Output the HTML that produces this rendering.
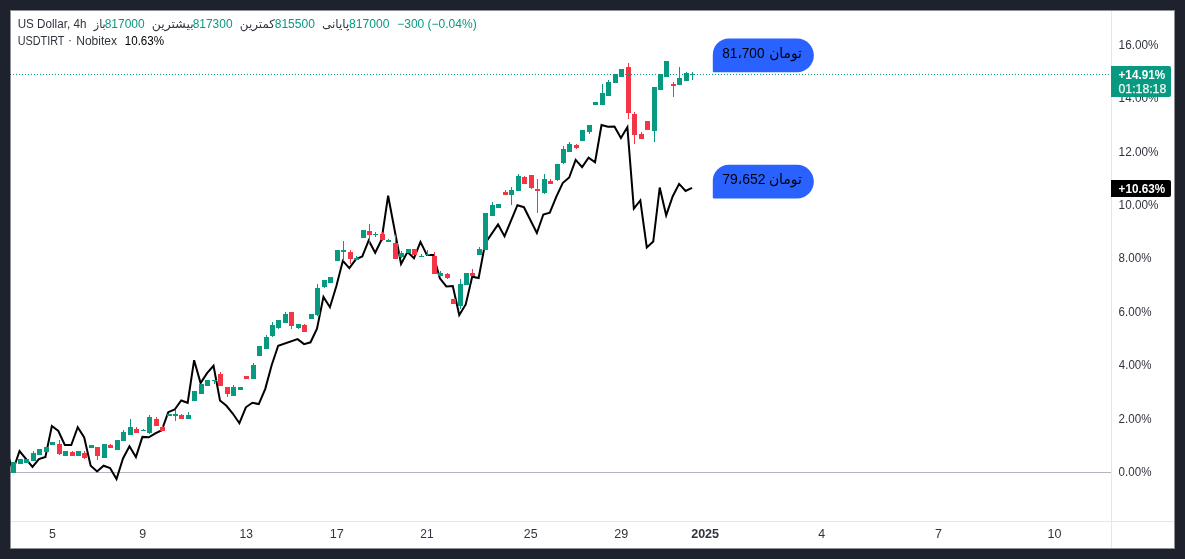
<!DOCTYPE html>
<html><head><meta charset="utf-8"><title>US Dollar chart</title>
<style>
*{margin:0;padding:0;box-sizing:border-box}
html,body{width:1185px;height:559px;overflow:hidden;background:#1e222d}
body{position:relative}
.panel{position:absolute;left:10px;top:10px;width:1165px;height:539px;background:#fff}
svg{position:absolute;left:0;top:0}
.txt{will-change:transform}
text{font-family:"Liberation Sans","DejaVu Sans",sans-serif;white-space:pre}
</style></head><body>
<div class="panel"></div>
<svg class="chart" width="1185" height="559" viewBox="0 0 1185 559">
<defs><clipPath id="pane"><rect x="10" y="10" width="1101" height="511"/></clipPath></defs>
<rect x="10" y="472" width="1101" height="1" fill="#b2b5be"/>
<g clip-path="url(#pane)">
<polyline points="6.60,452 13.07,470 19.53,451 32.47,467 38.93,459 45.40,457 51.87,426 58.33,431 64.80,445 71.26,445 77.73,427.2 84.20,437.5 90.66,465.7 97.13,471.5 103.60,465.7 110.06,468 116.53,479 123.00,458.5 129.46,446.3 135.93,457 142.40,436.9 148.86,437.3 155.33,433.3 161.80,430.2 168.26,412.2 174.73,409.5 181.20,400.5 187.66,402.8 194.13,360.2 200.59,383 207.06,373.1 213.53,365.8 219.99,400.5 226.46,405.8 232.93,413.8 239.39,423.2 245.86,407.3 252.33,402.8 258.79,404.1 265.26,388.8 271.73,365 278.19,345.7 297.59,339.1 304.06,344.1 310.53,342.3 316.99,328.7 323.46,296.9 329.93,307.2 336.39,286 342.86,260.8 349.32,268.2 355.79,259.4 362.26,256.5 368.72,240.5 375.19,252.8 381.66,239.4 388.12,195.7 401.06,264 407.52,251.9 413.99,258.3 420.46,241.9 426.92,255.1 433.39,255.1 439.86,278.3 446.32,286.4 452.79,286 459.25,315 465.72,304.4 472.19,276.7 478.65,278 485.12,243.5 498.05,224.5 504.52,236.2 517.45,205.2 523.92,207.2 536.85,233 543.32,214.5 549.79,212.6 556.25,196.9 562.72,183.1 569.19,177.5 575.65,159.8 582.12,167.1 588.59,157.7 595.05,162.2 601.52,125 607.98,126.8 614.45,126.6 620.92,137.9 627.38,127.1 633.85,208.6 640.32,200.5 646.78,247.5 653.25,241.5 659.72,187.6 666.18,215.3 672.65,196.5 679.12,183.9 685.58,191 692.05,187.9" fill="none" stroke="#000" stroke-width="2" stroke-linejoin="miter" stroke-miterlimit="4"/>
<rect x="11" y="462" width="5" height="11" fill="#089981"/><rect x="18" y="459" width="5" height="5" fill="#089981"/><rect x="24" y="459" width="5" height="4" fill="#089981"/><rect x="33" y="451" width="1" height="10" fill="#089981"/><rect x="31" y="453" width="5" height="8" fill="#089981"/><rect x="37" y="449" width="5" height="6" fill="#089981"/><rect x="44" y="447" width="5" height="5" fill="#089981"/><rect x="50" y="442" width="5" height="3" fill="#089981"/><rect x="59" y="440" width="1" height="15" fill="#f23645"/><rect x="57" y="444" width="5" height="10" fill="#f23645"/><rect x="63" y="451" width="5" height="5" fill="#089981"/><rect x="72" y="451" width="1" height="5" fill="#f23645"/><rect x="70" y="452" width="5" height="4" fill="#f23645"/><rect x="76" y="451" width="5" height="5" fill="#089981"/><rect x="84" y="451" width="1" height="8" fill="#f23645"/><rect x="82" y="453" width="5" height="5" fill="#f23645"/><rect x="89" y="445" width="5" height="3" fill="#089981"/><rect x="97" y="447" width="1" height="13" fill="#f23645"/><rect x="95" y="447" width="5" height="9" fill="#f23645"/><rect x="102" y="444" width="5" height="14" fill="#089981"/><rect x="110" y="444" width="1" height="4" fill="#f23645"/><rect x="108" y="445" width="5" height="3" fill="#f23645"/><rect x="115" y="440" width="5" height="10" fill="#089981"/><rect x="123" y="430" width="1" height="11" fill="#089981"/><rect x="121" y="432" width="5" height="9" fill="#089981"/><rect x="130" y="419" width="1" height="16" fill="#089981"/><rect x="128" y="427" width="5" height="8" fill="#089981"/><rect x="136" y="427" width="1" height="6" fill="#f23645"/><rect x="134" y="429" width="5" height="4" fill="#f23645"/><rect x="143" y="429" width="1" height="2" fill="#089981"/><rect x="141" y="430" width="5" height="1" fill="#089981"/><rect x="149" y="415" width="1" height="19" fill="#089981"/><rect x="147" y="417" width="5" height="16" fill="#089981"/><rect x="156" y="417" width="1" height="9" fill="#f23645"/><rect x="154" y="419" width="5" height="7" fill="#f23645"/><rect x="162" y="425" width="1" height="6" fill="#f23645"/><rect x="160" y="427" width="5" height="4" fill="#f23645"/><rect x="167" y="414" width="5" height="2" fill="#089981"/><rect x="175" y="410" width="1" height="11" fill="#089981"/><rect x="173" y="414" width="5" height="2" fill="#089981"/><rect x="181" y="414" width="1" height="5" fill="#f23645"/><rect x="179" y="415" width="5" height="4" fill="#f23645"/><rect x="188" y="412" width="1" height="7" fill="#089981"/><rect x="186" y="415" width="5" height="4" fill="#089981"/><rect x="192" y="391" width="5" height="10" fill="#089981"/><rect x="199" y="384" width="5" height="10" fill="#089981"/><rect x="205" y="380" width="5" height="6" fill="#089981"/><rect x="214" y="380" width="1" height="4" fill="#089981"/><rect x="212" y="380" width="5" height="1" fill="#089981"/><rect x="220" y="372" width="1" height="14" fill="#f23645"/><rect x="218" y="374" width="5" height="12" fill="#f23645"/><rect x="227" y="387" width="1" height="10" fill="#f23645"/><rect x="225" y="387" width="5" height="7" fill="#f23645"/><rect x="233" y="385" width="1" height="11" fill="#089981"/><rect x="231" y="387" width="5" height="9" fill="#089981"/><rect x="238" y="387" width="5" height="3" fill="#089981"/><rect x="244" y="376" width="5" height="3" fill="#f23645"/><rect x="253" y="363" width="1" height="16" fill="#089981"/><rect x="251" y="365" width="5" height="14" fill="#089981"/><rect x="257" y="346" width="5" height="10" fill="#089981"/><rect x="266" y="335" width="1" height="14" fill="#089981"/><rect x="264" y="337" width="5" height="12" fill="#089981"/><rect x="272" y="322" width="1" height="15" fill="#089981"/><rect x="270" y="325" width="5" height="11" fill="#089981"/><rect x="278" y="320" width="1" height="9" fill="#089981"/><rect x="276" y="320" width="5" height="8" fill="#089981"/><rect x="285" y="312" width="1" height="11" fill="#089981"/><rect x="283" y="314" width="5" height="9" fill="#089981"/><rect x="291" y="312" width="1" height="17" fill="#f23645"/><rect x="289" y="312" width="5" height="14" fill="#f23645"/><rect x="298" y="324" width="1" height="5" fill="#089981"/><rect x="296" y="324" width="5" height="4" fill="#089981"/><rect x="304" y="324" width="1" height="8" fill="#f23645"/><rect x="302" y="325" width="5" height="7" fill="#f23645"/><rect x="309" y="314" width="5" height="5" fill="#089981"/><rect x="317" y="284" width="1" height="32" fill="#089981"/><rect x="315" y="288" width="5" height="27" fill="#089981"/><rect x="324" y="280" width="1" height="8" fill="#089981"/><rect x="322" y="280" width="5" height="7" fill="#089981"/><rect x="328" y="277" width="5" height="6" fill="#089981"/><rect x="335" y="250" width="5" height="11" fill="#089981"/><rect x="343" y="241" width="1" height="20" fill="#089981"/><rect x="341" y="250" width="5" height="2" fill="#089981"/><rect x="350" y="250" width="1" height="14" fill="#f23645"/><rect x="348" y="252" width="5" height="7" fill="#f23645"/><rect x="356" y="256" width="1" height="4" fill="#089981"/><rect x="354" y="258" width="5" height="2" fill="#089981"/><rect x="361" y="230" width="5" height="8" fill="#089981"/><rect x="369" y="224" width="1" height="21" fill="#f23645"/><rect x="367" y="231" width="5" height="4" fill="#f23645"/><rect x="375" y="232" width="1" height="5" fill="#089981"/><rect x="373" y="234" width="5" height="1" fill="#089981"/><rect x="382" y="232" width="1" height="9" fill="#f23645"/><rect x="380" y="234" width="5" height="6" fill="#f23645"/><rect x="388" y="239" width="1" height="3" fill="#089981"/><rect x="386" y="240" width="5" height="2" fill="#089981"/><rect x="395" y="235" width="1" height="24" fill="#f23645"/><rect x="393" y="243" width="5" height="16" fill="#f23645"/><rect x="401" y="251" width="1" height="7" fill="#089981"/><rect x="399" y="253" width="5" height="4" fill="#089981"/><rect x="406" y="249" width="5" height="4" fill="#089981"/><rect x="412" y="249" width="5" height="6" fill="#f23645"/><rect x="421" y="254" width="1" height="3" fill="#089981"/><rect x="419" y="256" width="5" height="1" fill="#089981"/><rect x="427" y="250" width="1" height="6" fill="#089981"/><rect x="425" y="254" width="5" height="1" fill="#089981"/><rect x="434" y="252" width="1" height="22" fill="#f23645"/><rect x="432" y="256" width="5" height="18" fill="#f23645"/><rect x="440" y="271" width="1" height="5" fill="#089981"/><rect x="438" y="273" width="5" height="3" fill="#089981"/><rect x="447" y="273" width="1" height="6" fill="#f23645"/><rect x="445" y="274" width="5" height="4" fill="#f23645"/><rect x="451" y="299" width="5" height="5" fill="#f23645"/><rect x="460" y="279" width="1" height="30" fill="#089981"/><rect x="458" y="284" width="5" height="22" fill="#089981"/><rect x="464" y="273" width="5" height="12" fill="#089981"/><rect x="472" y="269" width="1" height="7" fill="#f23645"/><rect x="470" y="273" width="5" height="3" fill="#f23645"/><rect x="479" y="247" width="1" height="8" fill="#089981"/><rect x="477" y="249" width="5" height="6" fill="#089981"/><rect x="483" y="213" width="5" height="37" fill="#089981"/><rect x="492" y="202" width="1" height="14" fill="#089981"/><rect x="490" y="205" width="5" height="11" fill="#089981"/><rect x="496" y="204" width="5" height="4" fill="#089981"/><rect x="505" y="190" width="1" height="5" fill="#f23645"/><rect x="503" y="192" width="5" height="3" fill="#f23645"/><rect x="511" y="187" width="1" height="18" fill="#089981"/><rect x="509" y="190" width="5" height="5" fill="#089981"/><rect x="518" y="174" width="1" height="17" fill="#089981"/><rect x="516" y="176" width="5" height="15" fill="#089981"/><rect x="524" y="176" width="1" height="8" fill="#f23645"/><rect x="522" y="177" width="5" height="7" fill="#f23645"/><rect x="531" y="175" width="1" height="14" fill="#f23645"/><rect x="529" y="175" width="5" height="13" fill="#f23645"/><rect x="537" y="179" width="1" height="34" fill="#f23645"/><rect x="535" y="189" width="5" height="2" fill="#f23645"/><rect x="544" y="174" width="1" height="20" fill="#089981"/><rect x="542" y="179" width="5" height="14" fill="#089981"/><rect x="550" y="179" width="1" height="5" fill="#f23645"/><rect x="548" y="181" width="5" height="3" fill="#f23645"/><rect x="557" y="164" width="1" height="17" fill="#089981"/><rect x="555" y="164" width="5" height="16" fill="#089981"/><rect x="563" y="146" width="1" height="18" fill="#089981"/><rect x="561" y="149" width="5" height="14" fill="#089981"/><rect x="569" y="142" width="1" height="10" fill="#089981"/><rect x="567" y="144" width="5" height="8" fill="#089981"/><rect x="576" y="144" width="1" height="5" fill="#f23645"/><rect x="574" y="145" width="5" height="3" fill="#f23645"/><rect x="580" y="130" width="5" height="11" fill="#089981"/><rect x="589" y="125" width="1" height="9" fill="#089981"/><rect x="587" y="125" width="5" height="7" fill="#089981"/><rect x="593" y="102" width="5" height="3" fill="#089981"/><rect x="602" y="84" width="1" height="21" fill="#089981"/><rect x="600" y="93" width="5" height="12" fill="#089981"/><rect x="608" y="80" width="1" height="16" fill="#089981"/><rect x="606" y="82" width="5" height="14" fill="#089981"/><rect x="613" y="74" width="5" height="9" fill="#089981"/><rect x="619" y="69" width="5" height="8" fill="#089981"/><rect x="628" y="63" width="1" height="56" fill="#f23645"/><rect x="626" y="67" width="5" height="46" fill="#f23645"/><rect x="634" y="112" width="1" height="32" fill="#f23645"/><rect x="632" y="114" width="5" height="21" fill="#f23645"/><rect x="641" y="132" width="1" height="7" fill="#f23645"/><rect x="639" y="134" width="5" height="5" fill="#f23645"/><rect x="645" y="121" width="5" height="9" fill="#f23645"/><rect x="654" y="87" width="1" height="55" fill="#089981"/><rect x="652" y="87" width="5" height="44" fill="#089981"/><rect x="658" y="74" width="5" height="16" fill="#089981"/><rect x="664" y="61" width="5" height="16" fill="#089981"/><rect x="673" y="82" width="1" height="15" fill="#f23645"/><rect x="671" y="84" width="5" height="2" fill="#f23645"/><rect x="679" y="67" width="1" height="18" fill="#089981"/><rect x="677" y="78" width="5" height="7" fill="#089981"/><rect x="686" y="72" width="1" height="9" fill="#089981"/><rect x="684" y="73" width="5" height="8" fill="#089981"/><rect x="692" y="72" width="1" height="8" fill="#089981"/><rect x="690" y="74" width="5" height="1" fill="#089981"/>
<line x1="10" y1="74.5" x2="1111" y2="74.5" stroke="#089981" stroke-width="1" stroke-dasharray="1 2" stroke-dashoffset="0"/>
</g>
<rect x="1111" y="11" width="1" height="537" fill="#e6e7ec"/>
<rect x="11" y="521" width="1163" height="1" fill="#e6e7ec"/>
</svg>
<svg class="txt" width="1185" height="559" viewBox="0 0 1185 559">
<text x="17.63" y="27.80" textLength="68.76" lengthAdjust="spacingAndGlyphs" font-size="12" font-weight="normal" fill="#30343e">US Dollar, 4h</text>
<text x="93.77" y="27.80" textLength="11.91" lengthAdjust="spacingAndGlyphs" font-size="12" font-weight="normal" fill="#30343e">باز</text>
<text x="104.70" y="27.80" textLength="39.94" lengthAdjust="spacingAndGlyphs" font-size="12" font-weight="normal" fill="#089981">817000</text>
<text x="151.72" y="27.80" textLength="42.01" lengthAdjust="spacingAndGlyphs" font-size="12" font-weight="normal" fill="#30343e">بیشترین</text>
<text x="192.70" y="27.80" textLength="39.84" lengthAdjust="spacingAndGlyphs" font-size="12" font-weight="normal" fill="#089981">817300</text>
<text x="239.86" y="27.80" textLength="35.07" lengthAdjust="spacingAndGlyphs" font-size="12" font-weight="normal" fill="#30343e">کمترین</text>
<text x="274.70" y="27.80" textLength="40.15" lengthAdjust="spacingAndGlyphs" font-size="12" font-weight="normal" fill="#089981">815500</text>
<text x="321.95" y="27.80" textLength="27.29" lengthAdjust="spacingAndGlyphs" font-size="12" font-weight="normal" fill="#30343e">پایانی</text>
<text x="349.10" y="27.80" textLength="40.35" lengthAdjust="spacingAndGlyphs" font-size="12" font-weight="normal" fill="#089981">817000</text>
<text x="397.20" y="27.80" textLength="79.44" lengthAdjust="spacingAndGlyphs" font-size="12" font-weight="normal" fill="#089981">−300 (−0.04%)</text>
<text x="17.70" y="44.60" textLength="46.76" lengthAdjust="spacingAndGlyphs" font-size="12" font-weight="normal" fill="#30343e">USDTIRT</text>
<text x="68.04" y="44.00" textLength="4.12" lengthAdjust="spacingAndGlyphs" font-size="12" font-weight="normal" fill="#30343e">·</text>
<text x="76.20" y="44.60" textLength="40.79" lengthAdjust="spacingAndGlyphs" font-size="12" font-weight="normal" fill="#30343e">Nobitex</text>
<text x="124.73" y="44.60" textLength="39.41" lengthAdjust="spacingAndGlyphs" font-size="12" font-weight="normal" fill="#000">10.63%</text>
<text x="1118.62" y="476.00" textLength="32.85" lengthAdjust="spacingAndGlyphs" font-size="12" font-weight="normal" fill="#30343e">0.00%</text>
<text x="1118.62" y="422.60" textLength="32.85" lengthAdjust="spacingAndGlyphs" font-size="12" font-weight="normal" fill="#30343e">2.00%</text>
<text x="1118.86" y="369.20" textLength="32.61" lengthAdjust="spacingAndGlyphs" font-size="12" font-weight="normal" fill="#30343e">4.00%</text>
<text x="1118.62" y="315.80" textLength="32.85" lengthAdjust="spacingAndGlyphs" font-size="12" font-weight="normal" fill="#30343e">6.00%</text>
<text x="1118.62" y="262.40" textLength="32.85" lengthAdjust="spacingAndGlyphs" font-size="12" font-weight="normal" fill="#30343e">8.00%</text>
<text x="1118.62" y="209.00" textLength="39.82" lengthAdjust="spacingAndGlyphs" font-size="12" font-weight="normal" fill="#30343e">10.00%</text>
<text x="1118.62" y="155.60" textLength="39.82" lengthAdjust="spacingAndGlyphs" font-size="12" font-weight="normal" fill="#30343e">12.00%</text>
<text x="1118.62" y="102.20" textLength="39.82" lengthAdjust="spacingAndGlyphs" font-size="12" font-weight="normal" fill="#30343e">14.00%</text>
<text x="1118.62" y="48.80" textLength="39.82" lengthAdjust="spacingAndGlyphs" font-size="12" font-weight="normal" fill="#30343e">16.00%</text>
<text x="49.10" y="538.20" textLength="6.89" lengthAdjust="spacingAndGlyphs" font-size="12" font-weight="normal" fill="#30343e">5</text>
<text x="139.15" y="538.20" textLength="6.89" lengthAdjust="spacingAndGlyphs" font-size="12" font-weight="normal" fill="#30343e">9</text>
<text x="239.60" y="538.20" textLength="13.42" lengthAdjust="spacingAndGlyphs" font-size="12" font-weight="normal" fill="#30343e">13</text>
<text x="329.74" y="538.20" textLength="14.10" lengthAdjust="spacingAndGlyphs" font-size="12" font-weight="normal" fill="#30343e">17</text>
<text x="420.30" y="538.20" textLength="13.30" lengthAdjust="spacingAndGlyphs" font-size="12" font-weight="normal" fill="#30343e">21</text>
<text x="523.77" y="538.20" textLength="13.76" lengthAdjust="spacingAndGlyphs" font-size="12" font-weight="normal" fill="#30343e">25</text>
<text x="614.18" y="538.20" textLength="13.96" lengthAdjust="spacingAndGlyphs" font-size="12" font-weight="normal" fill="#30343e">29</text>
<text x="818.25" y="538.20" textLength="6.89" lengthAdjust="spacingAndGlyphs" font-size="12" font-weight="normal" fill="#30343e">4</text>
<text x="935.00" y="538.20" textLength="6.89" lengthAdjust="spacingAndGlyphs" font-size="12" font-weight="normal" fill="#30343e">7</text>
<text x="1047.46" y="538.20" textLength="13.92" lengthAdjust="spacingAndGlyphs" font-size="12" font-weight="normal" fill="#30343e">10</text>
<text x="691.18" y="538.20" textLength="27.90" lengthAdjust="spacingAndGlyphs" font-size="12" font-weight="bold" fill="#30343e">2025</text>

<path d="M728.8,38.5 H797 A16.85,16.85 0 0 1 797,72.2 H713.8 A1,1 0 0 1 712.8,71.2 V54.5 A16,16 0 0 1 728.8,38.5 Z" fill="#2962ff"/>
<path d="M728.8,164.8 H797 A16.85,16.85 0 0 1 797,198.5 H713.8 A1,1 0 0 1 712.8,197.5 V180.8 A16,16 0 0 1 728.8,164.8 Z" fill="#2962ff"/>
<path d="M1111,66 H1169 A2,2 0 0 1 1171,68 V95 A2,2 0 0 1 1169,97 H1111 Z" fill="#089981"/>
<path d="M1111,180 H1169 A2,2 0 0 1 1171,182 V195 A2,2 0 0 1 1169,197 H1111 Z" fill="#000"/>
<text x="1118.51" y="78.90" textLength="46.70" lengthAdjust="spacingAndGlyphs" font-size="12" font-weight="bold" fill="#fff">+14.91%</text>
<text x="1118.49" y="93.10" textLength="47.79" lengthAdjust="spacingAndGlyphs" font-size="12" font-weight="normal" fill="#fff" fill-opacity="0.9" stroke="#fff" stroke-opacity="0.9" stroke-width="0.25">01:18:18</text>
<text x="1118.61" y="193.00" textLength="46.50" lengthAdjust="spacingAndGlyphs" font-size="12" font-weight="bold" fill="#fff">+10.63%</text>
<text x="722.32" y="57.70" textLength="42.12" lengthAdjust="spacingAndGlyphs" font-size="14" font-weight="normal" fill="#000">81،700</text>
<text x="769.21" y="57.70" textLength="32.72" lengthAdjust="spacingAndGlyphs" font-size="14" font-weight="normal" fill="#000">تومان</text>
<text x="722.25" y="184.00" textLength="43.25" lengthAdjust="spacingAndGlyphs" font-size="14" font-weight="normal" fill="#000">79،652</text>
<text x="768.90" y="184.00" textLength="33.03" lengthAdjust="spacingAndGlyphs" font-size="14" font-weight="normal" fill="#000">تومان</text>

<g fill="#1e222d" fill-opacity="0.5"><rect x="10" y="10" width="1165" height="1"/><rect x="10" y="548" width="1165" height="1"/><rect x="10" y="11" width="1" height="537"/><rect x="1174" y="11" width="1" height="537"/></g>
</svg>
</body></html>
